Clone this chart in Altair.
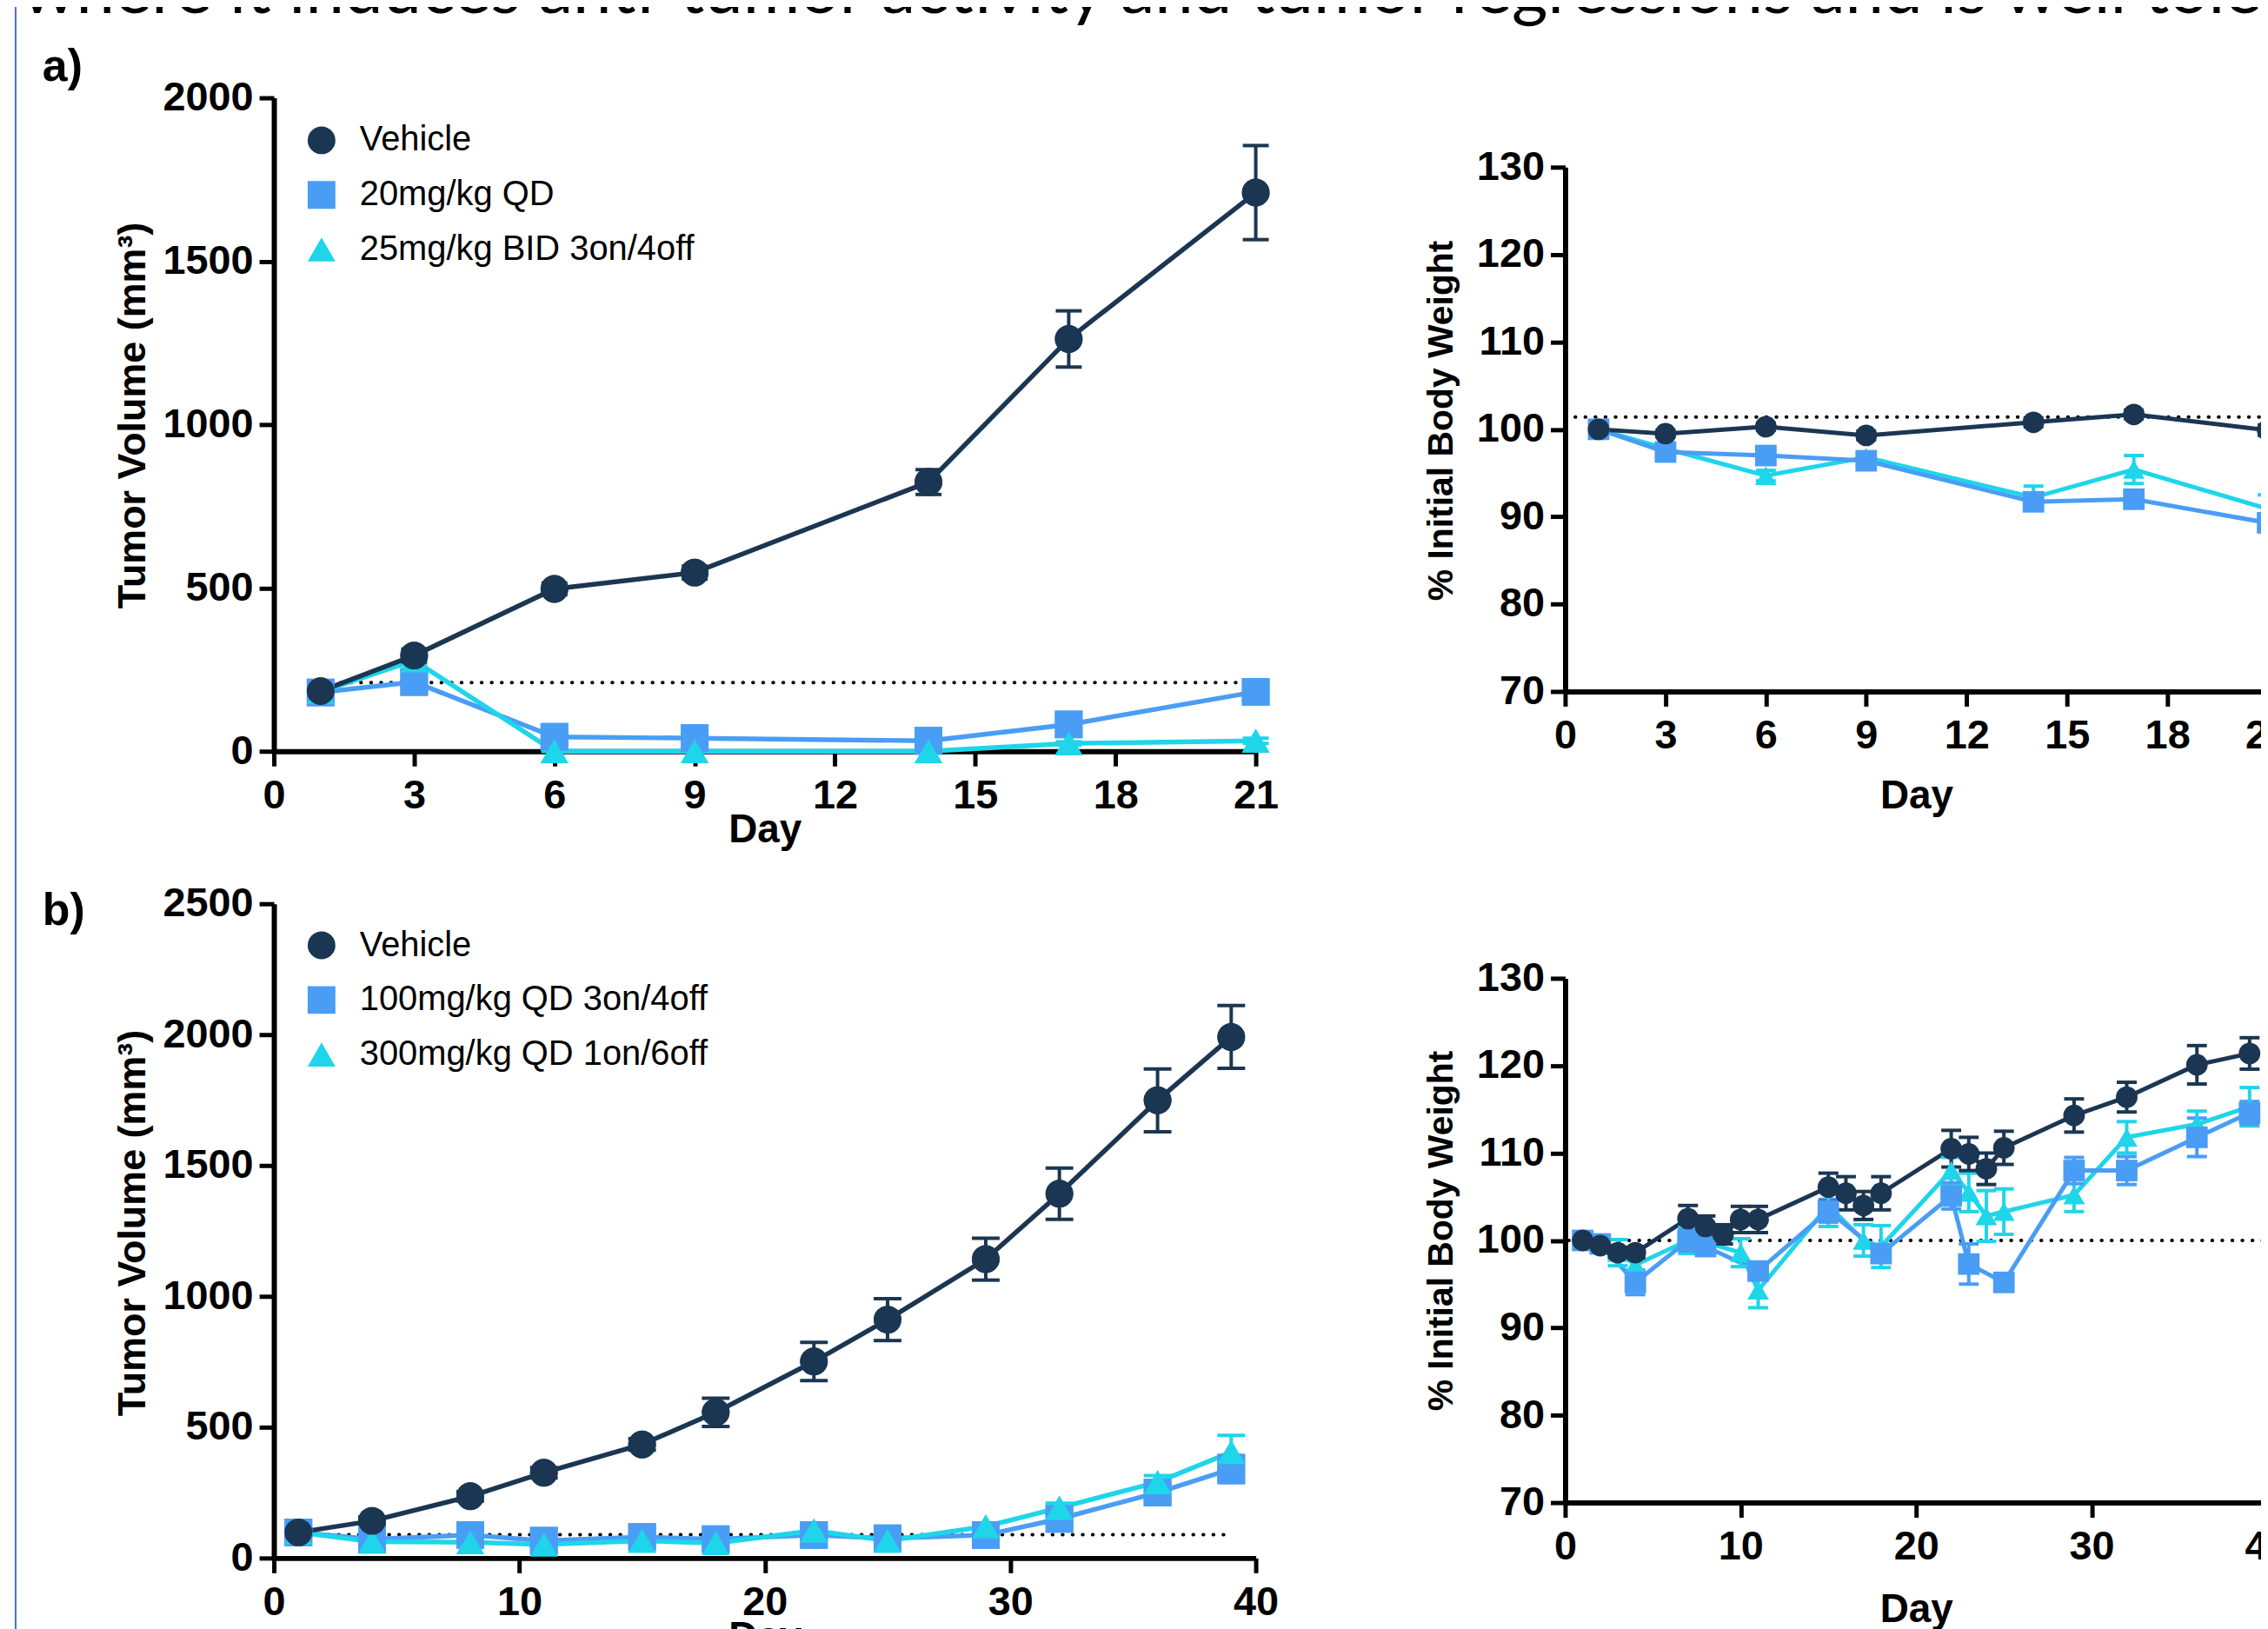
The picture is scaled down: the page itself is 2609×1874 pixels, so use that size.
import altair as alt
import pandas as pd

FONT = "Liberation Sans"

# ---------------- data ----------------
groups_a = ["Vehicle", "20mg/kg QD", "25mg/kg BID 3on/4off"]
groups_b = ["Vehicle", "100mg/kg QD 3on/4off", "300mg/kg QD 1on/6off"]
series_colors = ["#1b3652", "#4a9df5", "#1fd5e9"]
series_shapes = ["circle", "square", "triangle-up"]

# a) tumour volume
days_a = [1, 3, 6, 9, 14, 17, 21]
tv_a_vehicle = [184, 293, 497, 547, 824, 1262, 1710]
tv_a_vehicle_err = [15, 20, 18, 20, 38, 86, 144]
tv_a_20qd = [180, 212, 44, 40, 32, 82, 182]
tv_a_20qd_err = [10, 15, 8, 8, 6, 12, 20]
tv_a_25bid = [182, 278, 0, 0, 0, 24, 32]
tv_a_25bid_err = [10, 15, 0, 0, 0, 5, 8]
ref_a_tv_days = [1, 21]
ref_a_tv_val = [210, 210]

# a) body weight
bw_a_vehicle = [100.0, 99.5, 100.3, 99.3, 100.8, 101.7, 99.9]
bw_a_vehicle_err = [0.3, 0.4, 0.4, 0.5, 0.5, 0.5, 0.6]
bw_a_20qd = [100.0, 97.4, 97.0, 96.4, 91.7, 92.0, 89.3]
bw_a_20qd_err = [0.3, 0.5, 0.6, 0.7, 0.8, 0.8, 0.9]
bw_a_25bid = [100.0, 97.8, 94.7, 96.8, 92.2, 95.4, 90.9]
bw_a_25bid_err = [0.3, 0.5, 0.6, 0.6, 1.3, 1.6, 1.6]
ref_a_bw_days = [0.3, 21]
ref_a_bw_val = [101.4, 101.4]

# b) tumour volume
days_b_tv = [1, 4, 8, 11, 15, 18, 22, 25, 29, 32, 36, 39]
tv_b_vehicle = [98, 142, 236, 326, 434, 557, 751, 911, 1142, 1392, 1749, 1991]
tv_b_vehicle_err = [15, 15, 18, 20, 22, 54, 73, 80, 80, 98, 120, 120]
tv_b_100qd = [98, 72, 88, 66, 80, 72, 88, 75, 88, 150, 250, 340]
tv_b_100qd_err = [8, 8, 10, 8, 8, 8, 10, 10, 12, 20, 28, 52]
tv_b_300qd = [98, 63, 60, 52, 66, 57, 105, 66, 121, 192, 290, 405]
tv_b_300qd_err = [8, 8, 8, 8, 8, 8, 10, 10, 12, 18, 25, 64]
ref_b_tv_days = [1, 39]
ref_b_tv_val = [89, 89]

# b) body weight
days_b_bw_vehicle = [1, 2, 3, 4, 7, 8, 9, 10, 11, 15, 16, 17, 18, 22, 23, 24, 25, 29, 32, 36, 39]
bw_b_vehicle = [100.0, 99.4, 98.6, 98.6, 102.5, 101.6, 100.7, 102.4, 102.4, 106.1, 105.4,
                104.0, 105.4, 110.5, 109.9, 108.2, 110.6, 114.3, 116.4, 120.1, 121.4]
bw_b_vehicle_err = [0.4, 0.5, 0.6, 0.6, 1.5, 1.2, 1.1, 1.5, 1.5, 1.6, 1.9,
                    1.6, 1.9, 2.1, 1.9, 1.8, 1.9, 1.9, 1.7, 2.2, 1.8]
days_b_bw_100qd = [1, 2, 4, 7, 8, 11, 15, 18, 22, 23, 25, 29, 32, 36, 39]
bw_b_100qd = [100.0, 99.6, 95.2, 100.0, 99.3, 96.5, 103.4, 98.5, 105.1, 97.3, 95.2,
              108.0, 108.0, 111.8, 114.6]
bw_b_100qd_err = [0.4, 0.8, 1.4, 1.2, 0.8, 1.0, 1.3, 1.0, 1.5, 2.3, 0.6, 1.5, 1.6, 2.2, 1.3]
days_b_bw_300qd = [1, 3, 4, 7, 8, 10, 11, 15, 17, 18, 22, 23, 24, 25, 29, 32, 36, 39]
bw_b_300qd = [100.0, 98.6, 97.2, 100.0, 99.8, 98.6, 94.3, 104.0, 100.0, 99.3, 108.0,
              105.5, 102.8, 103.3, 105.2, 111.8, 113.3, 115.3]
bw_b_300qd_err = [0.3, 1.5, 0.8, 1.5, 1.0, 1.6, 2.0, 2.4, 1.8, 2.4, 1.5, 2.2, 2.9,
                  2.6, 1.9, 1.8, 1.5, 2.2]
ref_b_bw_days = [0.2, 40]
ref_b_bw_val = [100, 100]

title_text = "where it induces anti-tumor activity and tumor regressions and is well tolerated"

# ---------------- layout helpers ----------------
OX, OY = 8, 8           # page margin
W, H = 2601, 1866       # view size


def vx(p):
    return p - OX


def vy(p):
    return p - OY


def build(groups, days_list, vals_list, errs_list, order):
    rows = []
    for i in order:
        for d, v, e in zip(days_list[i], vals_list[i], errs_list[i]):
            rows.append({"group": groups[i], "day": d, "val": v, "lo": v - e, "hi": v + e, "k": i})
    return pd.DataFrame(rows)


def ref_frame(days, vals):
    return pd.DataFrame({"day": days, "val": vals})


def make_panel(df, ref_df, groups, xdom, xticks, xr, ydom, yticks, yr, ytitle,
               ytitle_pos, ytitle_size, xtitle_dy, marker, cap, lw, legend_pos=None):
    xs = alt.Scale(domain=xdom, range=[vx(xr[0]), vx(xr[1])], nice=False, zero=False)
    ys = alt.Scale(domain=ydom, range=[vy(yr[0]), vy(yr[1])], nice=False, zero=False)
    common = dict(grid=False, format="d", domainColor="black", domainWidth=6,
                  tickColor="black", tickWidth=5, tickSize=17,
                  labelFont=FONT, labelFontSize=47, labelFontWeight="bold",
                  labelColor="black", labelFlush=False, labelOverlap=False,
                  titleFont=FONT, titleFontWeight="bold", titleColor="black",
                  titleAlign="center")
    xax = alt.Axis(orient="bottom", offset=vy(yr[0]) - H, values=xticks,
                   labelPadding=11, titleFontSize=46, titleAngle=0,
                   titleBaseline="alphabetic",
                   titleX=(vx(xr[0]) + vx(xr[1])) / 2, titleY=xtitle_dy, **common)
    yax = alt.Axis(orient="left", offset=-vx(xr[0]), values=yticks,
                   labelPadding=7, titleFontSize=ytitle_size, titleAngle=270,
                   titleBaseline="middle",
                   titleX=ytitle_pos[0] - xr[0], titleY=vy(ytitle_pos[1]), **common)

    def X():
        return alt.X("day:Q", scale=xs, axis=xax, title="Day")

    def Y(field="val"):
        return alt.Y(f"{field}:Q", scale=ys, axis=yax, title=ytitle)

    cscale = alt.Scale(domain=groups, range=series_colors)
    sscale = alt.Scale(domain=groups, range=series_shapes)
    col = alt.Color("group:N", scale=cscale, legend=None)
    shp = alt.Shape("group:N", scale=sscale, legend=None)

    def points(color_enc, shape_enc):
        return alt.Chart(df).mark_point(filled=True, size=marker, opacity=1, strokeWidth=0).encode(
            x=X(), y=Y(), color=color_enc, shape=shape_enc)

    layers = []
    if legend_pos is not None:
        leg = alt.Legend(orient="none", legendX=vx(legend_pos[0]), legendY=vy(legend_pos[1]),
                         title=None, padding=0, labelFont=FONT, labelFontSize=40,
                         labelColor="black", labelOffset=24, rowPadding=23,
                         symbolSize=1024, symbolStrokeWidth=0, symbolOpacity=1,
                         labelLimit=0)
        # first layer carries the legend definition (drawn underneath the visible points)
        layers.append(points(alt.Color("group:N", scale=cscale, legend=leg),
                             alt.Shape("group:N", scale=sscale, legend=leg)))

    ref = alt.Chart(ref_df).mark_line(color="black", strokeWidth=4, strokeDash=[0.5, 11.1],
                                      strokeCap="round").encode(x=X(), y=Y())
    lines = alt.Chart(df).mark_line(strokeWidth=lw).encode(
        x=X(), y=Y(), color=col, detail="k:N")
    rules = alt.Chart(df).mark_rule(strokeWidth=4).encode(
        x=X(), y=Y("lo"), y2="hi:Q", color=col)
    caps = alt.Chart(df).transform_fold(["lo", "hi"], as_=["bound", "bv"]).mark_tick(
        orient="horizontal", size=cap, thickness=4, opacity=1).encode(
        x=X(), y=Y("bv"), color=col)
    layers += [ref, lines, rules, caps, points(col, shp)]
    return alt.layer(*layers)


# ---------------- panels ----------------
df_a_tv = build(groups_a, [days_a] * 3, [tv_a_vehicle, tv_a_20qd, tv_a_25bid],
                [tv_a_vehicle_err, tv_a_20qd_err, tv_a_25bid_err], [1, 2, 0])
df_a_bw = build(groups_a, [days_a] * 3, [bw_a_vehicle, bw_a_20qd, bw_a_25bid],
                [bw_a_vehicle_err, bw_a_20qd_err, bw_a_25bid_err], [2, 1, 0])
df_b_tv = build(groups_b, [days_b_tv] * 3, [tv_b_vehicle, tv_b_100qd, tv_b_300qd],
                [tv_b_vehicle_err, tv_b_100qd_err, tv_b_300qd_err], [1, 2, 0])
df_b_bw = build(groups_b, [days_b_bw_vehicle, days_b_bw_100qd, days_b_bw_300qd],
                [bw_b_vehicle, bw_b_100qd, bw_b_300qd],
                [bw_b_vehicle_err, bw_b_100qd_err, bw_b_300qd_err], [2, 1, 0])

p_a_tv = make_panel(df_a_tv, ref_frame(ref_a_tv_days, ref_a_tv_val), groups_a,
                    [0, 21], list(range(0, 22, 3)), (316, 1449),
                    [0, 2000], list(range(0, 2001, 500)), (864, 110),
                    "Tumor Volume (mm³)", (153, 476), 45, 105, 1024, 30, 5.5,
                    legend_pos=(351, 139))
p_a_bw = make_panel(df_a_bw, ref_frame(ref_a_bw_days, ref_a_bw_val), groups_a,
                    [0, 21], list(range(0, 22, 3)), (1806, 2616.6),
                    [70, 130], list(range(70, 131, 10)), (795, 190),
                    "% Initial Body Weight", (1664, 482), 41, 134, 620, 23, 5)
p_b_tv = make_panel(df_b_tv, ref_frame(ref_b_tv_days, ref_b_tv_val), groups_b,
                    [0, 40], list(range(0, 41, 10)), (316, 1449),
                    [0, 2500], list(range(0, 2501, 500)), (1795, 1040),
                    "Tumor Volume (mm³)", (153, 1408), 45, 105, 1024, 32, 5.5,
                    legend_pos=(351, 1068))
p_b_bw = make_panel(df_b_bw, ref_frame(ref_b_bw_days, ref_b_bw_val), groups_b,
                    [0, 40], list(range(0, 41, 10)), (1806, 2616),
                    [70, 130], list(range(70, 131, 10)), (1731, 1126),
                    "% Initial Body Weight", (1664, 1417), 41, 137, 620, 23, 5)

# ---------------- annotations ----------------
one = pd.DataFrame({"t": [title_text]})
headline = alt.Chart(one).mark_text(align="left", baseline="alphabetic", font="Lato",
                                    fontSize=80, color="black").encode(
    x=alt.value(vx(25)), y=alt.value(vy(12)), text="t:N")
lab_a = alt.Chart(pd.DataFrame({"t": ["a)"]})).mark_text(
    align="left", baseline="alphabetic", font=FONT, fontWeight="bold", fontSize=52,
    color="black").encode(x=alt.value(vx(49)), y=alt.value(vy(90)), text="t:N")
lab_b = alt.Chart(pd.DataFrame({"t": ["b)"]})).mark_text(
    align="left", baseline="alphabetic", font=FONT, fontWeight="bold", fontSize=52,
    color="black").encode(x=alt.value(vx(49)), y=alt.value(vy(1064)), text="t:N")
edge = alt.Chart(pd.DataFrame({"t": [0]})).mark_rule(color="#4a72c4", strokeWidth=2).encode(
    x=alt.value(vx(18)), y=alt.value(-10), y2=alt.value(H + 10))

chart = alt.layer(edge, headline, lab_a, lab_b, p_a_tv, p_a_bw, p_b_tv, p_b_bw).resolve_scale(
    x="independent", y="independent", color="independent", shape="independent"
).resolve_axis(x="independent", y="independent").resolve_legend(
    color="independent", shape="independent"
).properties(
    width=W, height=H, autosize=alt.AutoSizeParams(type="none"), padding=0
).configure_view(stroke=None)

chart.save("out.html", embed_options={"renderer": "svg", "actions": False})
